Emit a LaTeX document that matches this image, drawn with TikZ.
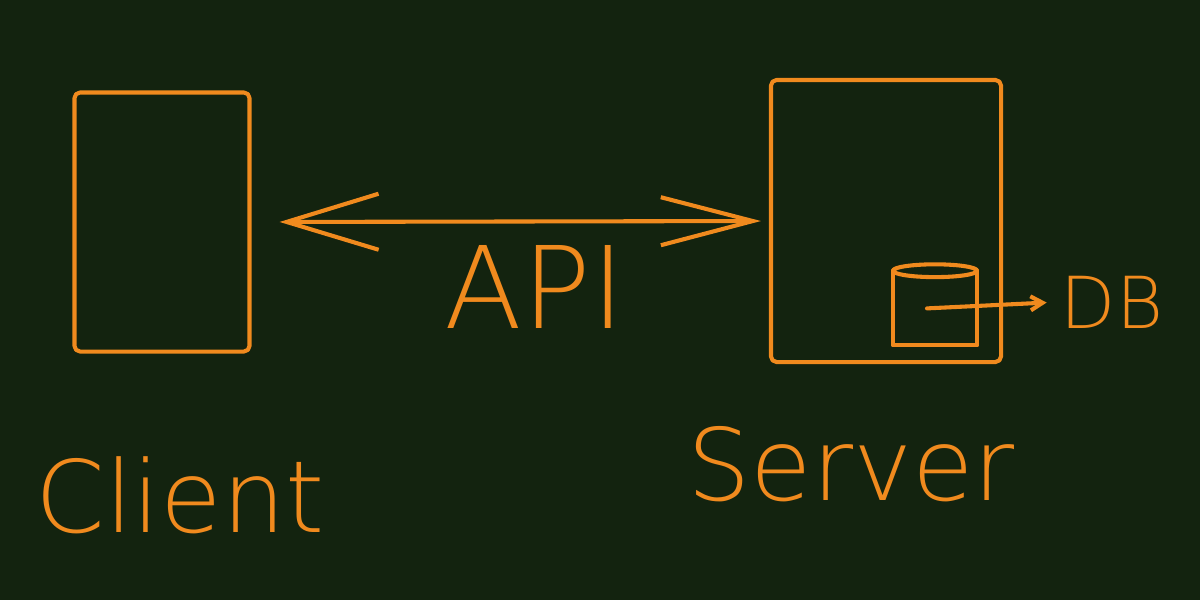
\documentclass[tikz,border=0pt]{standalone}
\usepackage{fontspec}
\usetikzlibrary{arrows.meta,shapes.geometric}
\newfontfamily\hand{DejaVu Sans ExtraLight}
\definecolor{bgc}{HTML}{13230F}
\definecolor{ink}{HTML}{F08A1E}
\begin{document}
\begin{tikzpicture}[x=0.025cm,y=-0.025cm,
  pen/.style={draw=ink,line width=2.9pt,line cap=round,line join=round},
  boxnode/.style={pen,rectangle,rounded corners=4pt,inner sep=0pt},
  label/.style={text=ink,inner sep=0pt,font=\hand},
  apiarrow/.style={pen,{Straight Barb[length=2.3cm,width=1.4cm]}-{Straight Barb[length=2.3cm,width=1.2cm]}},
  dbarrow/.style={pen,-{Straight Barb[length=0.3cm,width=0.35cm]}}]
  \fill[bgc] (0,0) rectangle (1200,600);
  \useasboundingbox (0,0) rectangle (1200,600);
  % boxes
  \node[boxnode,minimum width=4.375cm,minimum height=6.475cm] (client) at (162,222) {};
  \node[boxnode,minimum width=5.75cm,minimum height=7.05cm] (server) at (886,221) {};
  \node[rectangle,inner sep=0pt,minimum width=2.1cm,minimum height=1.85cm] (db) at (935,308) {};
  \draw[pen] (db.north west) -- (db.south west) -- (db.south east) -- (db.north east);
  \draw[pen] (db.north) ellipse [x radius=1.05cm,y radius=0.16cm];
  % labels
  \node[label,anchor=base,font=\hand\fontsize{71}{80}\selectfont] (clientlbl) at (180,532) {Client};
  \node[label,anchor=base,font=\hand\fontsize{71}{80}\selectfont] (serverlbl) at (851,500) {Server};
  \node[label,anchor=base,font=\hand\fontsize{81}{90}\selectfont] (apilbl) at (535,328) {API};
  \node[label,anchor=base,font=\hand\fontsize{51}{60}\selectfont] (dblbl) at (1112,328) {DB};
  % connectors
  \draw[apiarrow,shorten <=0.7cm,shorten >=0.2cm] (client.east) -- (server.west);
  \draw[dbarrow,shorten <=-0.2cm,shorten >=0.35cm] (db.center) -- (dblbl.west);
\end{tikzpicture}
\end{document}
